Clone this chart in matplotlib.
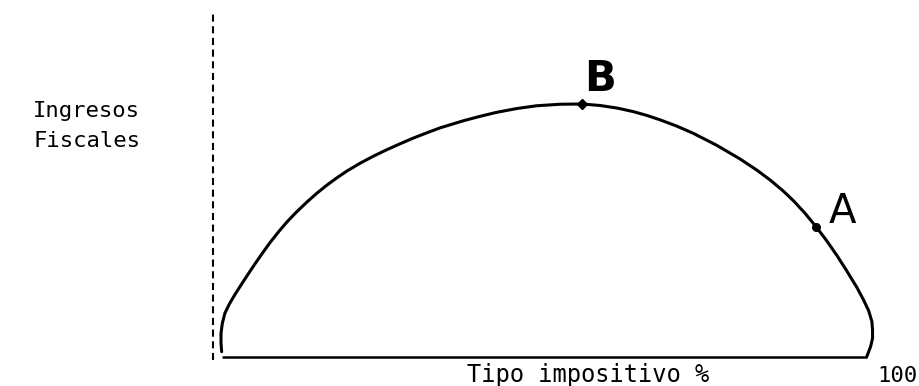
import numpy as np
import matplotlib
matplotlib.use("Agg")
import matplotlib.pyplot as plt

# Laffer curve: tax rate (%) vs. revenue (peak = 100)
tax_rate = [0.1, 0.0, 0.0, 0.2, 0.6, 1.3, 2.2, 3.2, 4.2, 5.3, 6.3, 7.6,
            8.9, 10.2, 11.7, 13.3, 14.8, 16.3, 17.9, 19.4, 21.5, 23.5,
            25.6, 27.7, 29.7, 31.8, 33.9, 37.5, 40.0, 42.6, 45.7, 48.8,
            52.4, 55.8, 58.6, 61.2, 63.7, 65.8, 67.9, 70.4, 73.0, 76.6,
            80.2, 82.8, 84.9, 86.9, 88.5, 90.3, 92.0, 93.6, 95.2, 96.7,
            98.3, 99.3, 100.1, 100.6, 100.7, 100.7, 100.4, 99.8]
revenue = [2.1, 5.4, 9.4, 13.3, 17.3, 21.0, 24.9, 28.9, 32.8, 37.0, 40.7, 45.3,
           49.5, 53.4, 57.4, 61.3, 64.7, 67.8, 70.8, 73.4, 76.6, 79.3,
           81.9, 84.3, 86.5, 88.6, 90.6, 93.4, 95.1, 96.7, 98.2, 99.3,
           99.9, 100.0, 99.4, 98.4, 97.0, 95.5, 93.7, 91.3, 88.4, 83.7,
           78.3, 73.9, 69.9, 65.6, 61.7, 56.7, 51.4, 46.0, 40.1, 34.1,
           27.4, 22.6, 18.3, 14.0, 10.7, 7.4, 4.1, 0.1]

point_names = ["B", "A"]
point_rate = [55.8, 92.0]
point_revenue = [100.0, 51.4]

fig = plt.figure(figsize=(9.19, 3.86), dpi=100)
ax = fig.add_axes([0, 0, 1, 1])
ax.set_xlim(-34.16, 107.88)
ax.set_ylim(-11.46, 141.1)
ax.axis("off")

# dashed revenue axis and solid tax-rate axis
ax.plot([-1.24, -1.24], [-1.2, 137.2], color="black", lw=1.5, dashes=(3.4, 2.2))
ax.plot([0.15, 99.8], [0, 0], color="black", lw=1.8, solid_capstyle="butt")

ax.plot(tax_rate, revenue, color="black", lw=2.2,
        solid_joinstyle="round", solid_capstyle="round")

ax.plot(point_rate[0], point_revenue[0], marker="D", ms=5, color="black")
ax.plot(point_rate[1], point_revenue[1], marker="o", ms=5.5, color="black")
ax.text(58.6, 109.9, point_names[0], fontsize=30, ha="center", va="center",
        family="DejaVu Sans", fontweight="bold")
ax.text(96.1, 57.3, point_names[1], fontsize=29, ha="center", va="center",
        family="DejaVu Sans")

mono = "DejaVu Sans Mono"
ax.text(-12.5, 94.9, "Ingresos", fontsize=16, ha="right", va="baseline", family=mono)
ax.text(-12.5, 83.0, "Fiscales", fontsize=16, ha="right", va="baseline", family=mono)
ax.text(56.7, -9.9, "Tipo impositivo %", fontsize=17, ha="center", va="baseline", family=mono)
ax.text(101.5, -9.9, "100", fontsize=16, ha="left", va="baseline", family=mono)

fig.savefig("out.png", dpi=100)
